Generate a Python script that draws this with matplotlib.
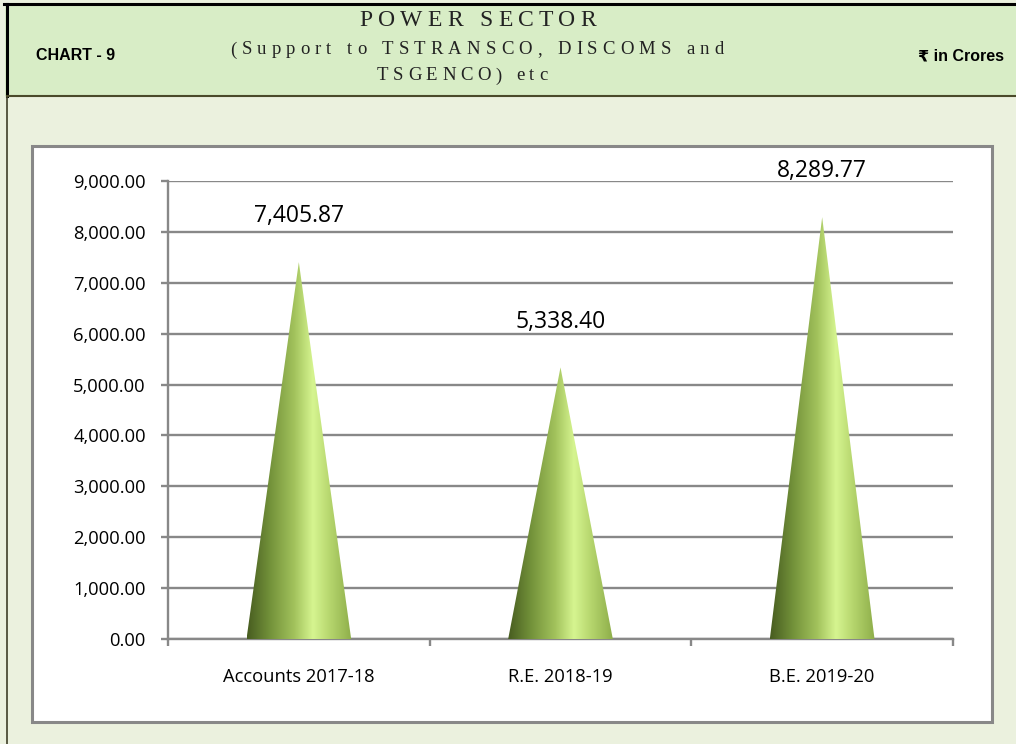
import matplotlib

matplotlib.use("Agg")
import matplotlib.pyplot as plt
import numpy as np
from matplotlib.colors import LinearSegmentedColormap
from matplotlib.patches import Polygon, Rectangle
from matplotlib.ticker import FuncFormatter, MultipleLocator

# chart data
categories = ["Accounts 2017-18", "R.E. 2018-19", "B.E. 2019-20"]
values = [7405.87, 5338.40, 8289.77]
y_max = 9000
y_step = 1000

title = "POWER SECTOR"
subtitle = ["(Support to TSTRANSCO, DISCOMS and", "TSGENCO) etc"]
chart_no = "CHART - 9"
unit = "₹ in Crores"

W, H = 1016, 744
fig = plt.figure(figsize=(W / 100, H / 100), dpi=100)
fig.patch.set_facecolor("#ebf1de")


def fx(px):
    return px / W


def fy(py):
    return 1 - py / H


# header band and frame
fig.add_artist(Rectangle((fx(5), fy(96)), 1 - fx(5), fy(5) - fy(96), transform=fig.transFigure,
                         facecolor="#d8edc6", edgecolor="none", zorder=-3))
fig.add_artist(plt.Line2D([fx(4), 1], [fy(4), fy(4)], transform=fig.transFigure, color="black", lw=2.2,
                          zorder=-2))
fig.add_artist(plt.Line2D([fx(7), fx(7)], [fy(4), fy(96)], transform=fig.transFigure, color="black", lw=2.2,
                          zorder=-2))
fig.add_artist(plt.Line2D([fx(7), fx(7)], [fy(96), 0], transform=fig.transFigure, color="#3f3f28", lw=1.2,
                          zorder=-2))
fig.add_artist(plt.Line2D([fx(7), 1], [fy(96), fy(96)], transform=fig.transFigure, color="#4a4a2a", lw=1.5,
                          zorder=-2))

# white chart box
fig.add_artist(Rectangle((fx(32), fy(722)), fx(992) - fx(32), fy(146) - fy(722), transform=fig.transFigure,
                         facecolor="white", edgecolor="#888888", lw=2.2, zorder=-1))

fig.text(fx(36), fy(56), chart_no, fontsize=11.5, fontweight="bold", family="Liberation Sans",
         va="center", ha="left")
fig.text(fx(1004), fy(56), unit, fontsize=11.5, fontweight="bold",
         family=["Liberation Sans", "DejaVu Sans"], va="center", ha="right")


def tracked_text(s, xc, y, size, track):
    # draw a string with extra letter spacing, centred at xc (pixels)
    renderer = fig.canvas.get_renderer()
    widths = []
    for ch in s:
        probe = fig.text(0, 0, ch if ch != " " else "n", fontsize=size, family="Liberation Serif")
        w = probe.get_window_extent(renderer).width
        probe.remove()
        widths.append(w * 0.55 if ch == " " else w)
    total = sum(widths) + track * (len(s) - 1)
    x = xc - total / 2
    for ch, w in zip(s, widths):
        if ch != " ":
            fig.text(fx(x), fy(y), ch, fontsize=size, family="Liberation Serif", va="center", ha="left",
                     color="#222222")
        x += w + track


tracked_text(title, 478, 20, 17, 5.2)
tracked_text(subtitle[0], 477, 50, 13.5, 5.1)
tracked_text(subtitle[1], 462, 76, 13.5, 4.6)

# plot area
ax = fig.add_axes([fx(168), fy(639), fx(953) - fx(168), fy(181) - fy(639)])
ax.set_facecolor("none")
x = np.arange(len(categories))
ax.set_xlim(-0.5, len(categories) - 0.5)
ax.set_ylim(0, y_max)

ax.yaxis.set_major_locator(MultipleLocator(y_step))
ax.yaxis.set_major_formatter(FuncFormatter(lambda v, p: f"{v:,.2f}"))
ax.grid(axis="y", color="#888888", lw=1.7)
ax.set_axisbelow(True)
for side in ["top", "right"]:
    ax.spines[side].set_visible(False)
for side in ["left", "bottom"]:
    ax.spines[side].set_color("#888888")
    ax.spines[side].set_linewidth(1.7)

ax.set_xticks(x)
ax.set_xticklabels(categories)
ax.set_xticks(np.arange(len(categories) + 1) - 0.5, minor=True)
ax.tick_params(axis="x", which="major", length=0, pad=21, labelsize=13.2)
ax.tick_params(axis="x", which="minor", length=5, width=1.7, color="#888888", direction="out")
ax.tick_params(axis="y", length=5, width=1.7, color="#888888", pad=11, labelsize=13.2)
for lab in ax.get_xticklabels() + ax.get_yticklabels():
    lab.set_family("Open Sans")

# shaded cones
cone_cmap = LinearSegmentedColormap.from_list(
    "cone",
    [(0.0, "#475c20"), (0.22, "#73923a"), (0.45, "#a2c25c"), (0.63, "#d6f590"),
     (0.8, "#b4d46c"), (1.0, "#8eae4a")],
)
grad = np.linspace(0, 1, 256).reshape(1, -1)
half = 0.2
for xi, v in zip(x, values):
    tri = Polygon([(xi - half, 0), (xi + half, 0), (xi, v)], closed=True, transform=ax.transData,
                  facecolor="none", edgecolor="none")
    ax.add_patch(tri)
    im = ax.imshow(grad, cmap=cone_cmap, extent=[xi - half, xi + half, 0, v], aspect="auto",
                   interpolation="bicubic", zorder=3)
    im.set_clip_path(tri)
    ax.annotate(f"{v:,.2f}", (xi, v), xytext=(0, 33), textcoords="offset points", ha="center",
                va="center", fontsize=16.5, family="Open Sans")

ax.set_xlim(-0.5, len(categories) - 0.5)
ax.set_ylim(0, y_max)

fig.savefig("out.png", dpi=100, facecolor=fig.get_facecolor())
